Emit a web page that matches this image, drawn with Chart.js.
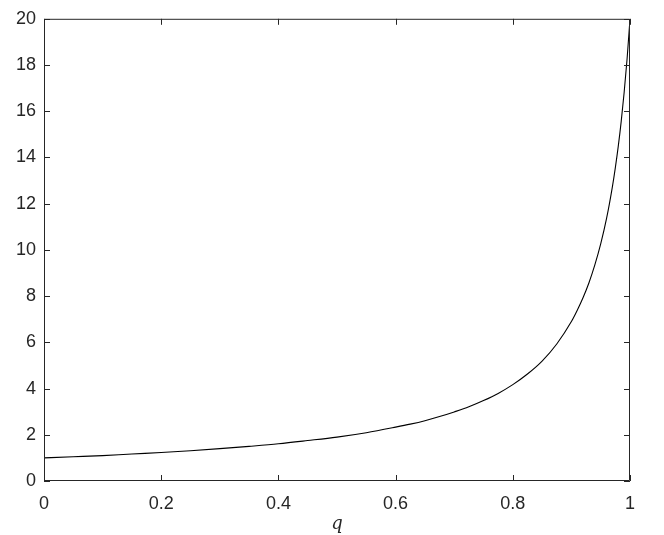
<!DOCTYPE html>
<html>
<head>
<meta charset="utf-8">
<script src="https://cdn.jsdelivr.net/npm/chart.js@4"></script>
<style>
  html, body { margin: 0; padding: 0; background: #fff; }
  #wrap { width: 664px; height: 535px; }
</style>
</head>
<body>
<div id="wrap"><canvas id="c" width="664" height="535"></canvas></div>
<script>
// values
const qValues = [0, 0.05, 0.1, 0.15, 0.2, 0.25, 0.3, 0.35, 0.4, 0.45, 0.5, 0.55, 0.6, 0.625, 0.65, 0.675, 0.7, 0.725, 0.75, 0.775, 0.8, 0.825, 0.85, 0.875, 0.9, 0.91, 0.92, 0.93, 0.94, 0.95, 0.96, 0.97, 0.975, 0.98, 0.985, 0.99, 0.995, 1];
const yValues = [1.0, 1.05, 1.10, 1.17, 1.23, 1.31, 1.40, 1.50, 1.61, 1.75, 1.90, 2.09, 2.33, 2.46, 2.61, 2.79, 2.99, 3.21, 3.48, 3.79, 4.17, 4.63, 5.19, 5.93, 6.90, 7.39, 7.94, 8.58, 9.35, 10.26, 11.36, 12.74, 13.56, 14.49, 15.56, 16.81, 18.26, 20.0];
const xTicks = [0, 0.2, 0.4, 0.6, 0.8, 1];
const yTicks = [0, 2, 4, 6, 8, 10, 12, 14, 16, 18, 20];

const axisColor = "#262626";
const tickFont = { family: "'Liberation Sans', Arial, sans-serif", size: 18 };

// inward ticks on all four sides + box (matlab style)
const boxTicks = {
  id: "boxTicks",
  afterDraw(chart) {
    const { ctx, chartArea: a, scales } = chart;
    ctx.save();
    ctx.strokeStyle = axisColor;
    ctx.lineWidth = 1;
    ctx.beginPath();
    ctx.rect(a.left + 0.5, a.top + 0.5, a.right - a.left - 1, a.bottom - a.top - 1);
    xTicks.forEach((t) => {
      const x = Math.round(scales.x.getPixelForValue(t)) + 0.5;
      ctx.moveTo(x, a.bottom);
      ctx.lineTo(x, a.bottom - 6);
      ctx.moveTo(x, a.top);
      ctx.lineTo(x, a.top + 6);
    });
    yTicks.forEach((t) => {
      const y = Math.round(scales.y.getPixelForValue(t)) + 0.5;
      ctx.moveTo(a.left, y);
      ctx.lineTo(a.left + 6, y);
      ctx.moveTo(a.right, y);
      ctx.lineTo(a.right - 6, y);
    });
    ctx.stroke();
    ctx.restore();
  },
};

const points = qValues.map((q, i) => ({ x: q, y: yValues[i] }));

new Chart(document.getElementById("c"), {
  type: "line",
  data: {
    datasets: [
      {
        data: points,
        borderColor: "#000",
        borderWidth: 1.1,
        pointRadius: 0,
        fill: false,
        cubicInterpolationMode: "monotone",
      },
    ],
  },
  options: {
    responsive: false,
    animation: false,
    layout: { padding: { top: 18, right: 34, left: 0, bottom: 0 } },
    plugins: { legend: { display: false }, tooltip: { enabled: false } },
    scales: {
      x: {
        type: "linear",
        min: 0,
        max: 1,
        afterBuildTicks: (s) => { s.ticks = xTicks.map((v) => ({ value: v })); },
        afterFit: (s) => { s.height = 54; },
        grid: { display: false, drawTicks: false },
        border: { display: false },
        ticks: { color: axisColor, font: tickFont, padding: 12, maxRotation: 0, callback: (v) => String(v) },
        title: {
          display: true,
          text: "q",
          color: axisColor,
          font: { family: "'DejaVu Serif', 'Liberation Serif', serif", size: 18, style: "italic" },
          padding: { top: 0, bottom: 0 },
        },
      },
      y: {
        min: 0,
        max: 20,
        afterBuildTicks: (s) => { s.ticks = yTicks.map((v) => ({ value: v })); },
        afterFit: (s) => { s.width = 44; },
        grid: { display: false, drawTicks: false },
        border: { display: false },
        ticks: { color: axisColor, font: tickFont, padding: 8, callback: (v) => String(v) },
      },
    },
  },
  plugins: [boxTicks],
});
</script>
</body>
</html>
